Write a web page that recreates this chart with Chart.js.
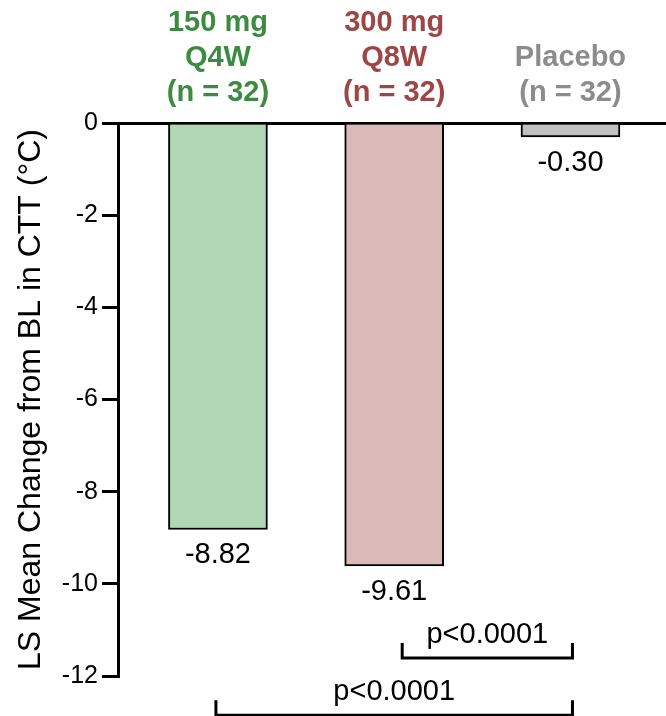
<!DOCTYPE html>
<html>
<head>
<meta charset="utf-8">
<script src="https://cdn.jsdelivr.net/npm/chart.js@4.4.1/dist/chart.umd.min.js"></script>
<style>
    body { margin: 0; background: #fff; }
    #wrap { width: 666px; height: 716px; position: relative; }
</style>
</head>
<body>
<div id="wrap"><canvas id="cttChart"></canvas></div>
<script>
// Chart data
const groups = ['150 mg Q4W', '300 mg Q8W', 'Placebo'];
const groupLabelLines = [
    ['150 mg', 'Q4W', '(n = 32)'],
    ['300 mg', 'Q8W', '(n = 32)'],
    ['Placebo', '(n = 32)']
];
const lsMeanChange = [-8.82, -9.61, -0.30];
const valueLabels = ['-8.82', '-9.61', '-0.30'];
const yTickMin = -12;
const yTickMax = 0;
const yTickStep = 2;
// p-value comparisons: [from group, to group]
const comparisonPairs = [[1, 2], [0, 2]];
const comparisonLabels = ['p<0.0001', 'p<0.0001'];

const FONT = "'Liberation Sans', Arial, Helvetica, sans-serif";
const textColors = ['#3d8b40', '#9e4545', '#8c8c8c'];
const barColors = ['#b1d8b4', '#dcb9b9', '#c1c1c1'];

// Draw value labels under bars and the p-value brackets
const annotationPlugin = {
    id: 'annotations',
    afterDatasetsDraw(chart, args, opts) {
        const ctx = chart.ctx;
        const xs = chart.scales.x;
        const ys = chart.scales.y;
        const meta = chart.getDatasetMeta(0);

        ctx.save();
        ctx.fillStyle = '#000';
        ctx.textAlign = 'center';
        ctx.textBaseline = 'alphabetic';
        ctx.font = `29px ${FONT}`;
        meta.data.forEach((bar, i) => {
            ctx.fillText(valueLabels[i], bar.x, bar.y + 34);
        });

        // brackets
        ctx.strokeStyle = '#000';
        ctx.lineWidth = 3;
        ctx.lineCap = 'butt';
        comparisonPairs.forEach((pair, i) => {
            const x1 = xs.getPixelForValue(pair[0]) + opts.insets[i];
            const x2 = xs.getPixelForValue(pair[1]) + 2;
            const y = ys.getPixelForValue(opts.levels[i]);
            ctx.beginPath();
            ctx.moveTo(x1, y - 15);
            ctx.lineTo(x1, y);
            ctx.lineTo(x2, y);
            ctx.lineTo(x2, y - 15);
            ctx.stroke();
            ctx.fillText(comparisonLabels[i], (x1 + x2) / 2, y - 15);
        });
        ctx.restore();
    }
};

function createChart() {
    const ctx = document.getElementById('cttChart').getContext('2d');

    new Chart(ctx, {
        type: 'bar',
        data: {
            datasets: [{
                label: 'LS Mean Change',
                data: lsMeanChange.map((v, i) => ({ x: i, y: v })),
                backgroundColor: barColors,
                borderColor: '#000',
                borderWidth: 2,
                barThickness: 99
            }]
        },
        options: {
            responsive: true,
            maintainAspectRatio: false,
            animation: false,
            layout: { padding: { top: 0, left: 0, right: 0, bottom: 40 } },
            plugins: {
                legend: { display: false },
                tooltip: { enabled: false },
                annotations: {
                    levels: [-11.61, -12.85],
                    insets: [8, -2]
                }
            },
            scales: {
                x: {
                    type: 'linear',
                    position: 'top',
                    offset: false,
                    min: -0.567,
                    max: 2.542,
                    grid: { display: false, drawTicks: false },
                    border: { display: true, width: 3, color: '#000' },
                    afterBuildTicks: function (scale) {
                        scale.ticks = groups.map((g, i) => ({ value: i }));
                    },
                    afterFit: function (scale) {
                        scale.height = 123;
                    },
                    ticks: {
                        autoSkip: false,
                        maxRotation: 0,
                        padding: 13,
                        color: function (c) {
                            return textColors[c.tick ? c.tick.value : c.index] || '#000';
                        },
                        font: { family: FONT, size: 29, weight: 'bold', lineHeight: 1.2 },
                        callback: function (value) {
                            return groupLabelLines[value] || '';
                        }
                    }
                },
                y: {
                    min: yTickMin,
                    max: yTickMax,
                    grid: {
                        drawOnChartArea: false,
                        drawTicks: true,
                        tickLength: 16,
                        lineWidth: 3,
                        color: '#000'
                    },
                    border: { display: true, width: 3, color: '#000' },
                    afterFit: function (scale) {
                        scale.width = 118;
                    },
                    ticks: {
                        stepSize: yTickStep,
                        padding: 4,
                        color: '#000',
                        font: { family: FONT, size: 25 }
                    },
                    title: {
                        display: true,
                        text: 'LS Mean Change from BL in CTT (°C)',
                        color: '#000',
                        font: { family: FONT, size: 32, lineHeight: 1.2 },
                        padding: { top: 12, bottom: 0 }
                    }
                }
            }
        },
        plugins: [annotationPlugin]
    });
}

createChart();
</script>
</body>
</html>
